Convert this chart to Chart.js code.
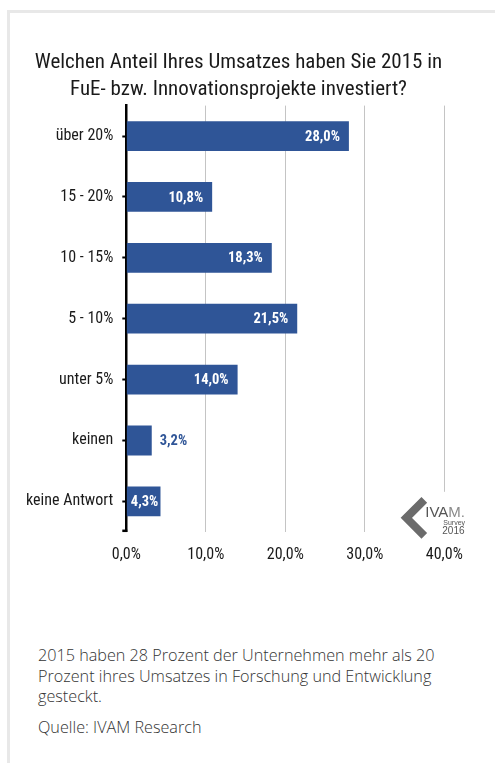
<!DOCTYPE html>
<html lang="de">
<head>
    <meta charset="UTF-8">
    <title>IVAM Survey 2016</title>
    <style>
        body {
            margin: 0;
            background: #fff;
            font-family: "Roboto Condensed", sans-serif;
        }
        .card {
            position: absolute;
            left: 7px;
            top: 10px;
            right: 0;
            bottom: 0;
            border-top: 3px solid #e8e8e8;
            border-left: 3px solid #e8e8e8;
        }
        .chart-box {
            position: absolute;
            left: 10px;
            top: 13px;
            width: 457px;
            height: 560px;
        }
        .caption {
            position: absolute;
            left: 38px;
            top: 645px;
            font-family: "Open Sans", sans-serif;
            font-size: 16.2px;
            font-weight: 300;
            line-height: 20.5px;
            color: #333;
            white-space: nowrap;
        }
        .caption p {
            margin: 0 0 10px 0;
        }
    </style>
    <script src="https://cdn.jsdelivr.net/npm/chart.js"></script>
</head>
<body>
    <div class="card"></div>
    <div class="chart-box">
        <canvas id="umsatzChart"></canvas>
    </div>
    <div class="caption">
        <p>2015 haben 28 Prozent der Unternehmen mehr als 20<br>Prozent ihres Umsatzes in Forschung und Entwicklung<br>gesteckt.</p>
        <p>Quelle: IVAM Research</p>
    </div>

    <script>
        // Daten aus der Grafik
        const categories = ['über 20%', '15 - 20%', '10 - 15%', '5 - 10%', 'unter 5%', 'keinen', 'keine Antwort'];
        const shares = [28.0, 10.8, 18.3, 21.5, 14.0, 3.2, 4.3];
        const xTicks = [0, 10, 20, 30, 40];
        const titleLines = ['Welchen Anteil Ihres Umsatzes haben Sie 2015 in', 'FuE- bzw. Innovationsprojekte investiert?'];

        const barColor = '#2f5597';
        const condensed = '"Roboto Condensed", "DejaVu Sans Condensed", sans-serif';

        const fmt = v => v.toFixed(1).replace('.', ',') + '%';

        // Werte an die Balken schreiben (innen weiss, ausserhalb blau)
        const valueLabels = {
            id: 'valueLabels',
            afterDatasetsDraw(chart) {
                const ctx = chart.ctx;
                const meta = chart.getDatasetMeta(0);
                ctx.save();
                ctx.font = 'bold 14.5px ' + condensed;
                ctx.textBaseline = 'middle';
                meta.data.forEach((bar, i) => {
                    const txt = fmt(shares[i]);
                    const w = ctx.measureText(txt).width;
                    const len = bar.x - bar.base;
                    if (len > w + 6) {
                        ctx.fillStyle = '#fff';
                        ctx.textAlign = 'right';
                        ctx.fillText(txt, Math.max(bar.x - 9, bar.base + 4 + w), bar.y + 1);
                    } else {
                        ctx.fillStyle = barColor;
                        ctx.textAlign = 'left';
                        ctx.fillText(txt, bar.x + 8, bar.y + 1);
                    }
                });
                ctx.restore();
            }
        };

        // kleiner Haken am Achsenende + IVAM Logo
        const extras = {
            id: 'extras',
            afterDraw(chart) {
                const ctx = chart.ctx;
                const a = chart.chartArea;
                ctx.save();
                ctx.strokeStyle = '#000';
                ctx.lineWidth = 2.5;
                ctx.beginPath();
                ctx.moveTo(a.left - 4, a.bottom - 1);
                ctx.lineTo(a.left + 1, a.bottom - 1);
                ctx.stroke();

                // Logo unten rechts
                const lx = a.right - 38, ly = a.bottom - 14;
                ctx.fillStyle = '#fff';
                ctx.fillRect(a.right - 6, a.bottom - 40, 12, 42);
                ctx.strokeStyle = '#6b6b6b';
                ctx.lineWidth = 8;
                ctx.lineJoin = 'miter';
                ctx.beginPath();
                ctx.moveTo(lx + 18, ly - 18);
                ctx.lineTo(lx, ly);
                ctx.lineTo(lx + 18, ly + 18);
                ctx.stroke();
                ctx.textBaseline = 'alphabetic';
                ctx.textAlign = 'left';
                ctx.font = '15px "Liberation Sans", Arial, sans-serif';
                ctx.fillStyle = '#555';
                ctx.fillText('IVA', lx + 19, ly - 1);
                const wIva = ctx.measureText('IVA').width;
                ctx.fillStyle = '#8a8a8a';
                ctx.fillText('M.', lx + 19 + wIva, ly - 1);
                ctx.fillStyle = '#555';
                ctx.font = '7px "Liberation Sans", Arial, sans-serif';
                ctx.fillText('Survey', lx + 37, ly + 7);
                ctx.font = '10px "Liberation Sans", Arial, sans-serif';
                ctx.fillText('2016', lx + 36, ly + 16);
                ctx.restore();
            }
        };

        const ctx = document.getElementById('umsatzChart').getContext('2d');
        const umsatzChart = new Chart(ctx, {
            type: 'bar',
            data: {
                labels: categories,
                datasets: [{
                    data: shares,
                    backgroundColor: barColor,
                    borderWidth: 0,
                    categoryPercentage: 1,
                    barPercentage: 0.49
                }]
            },
            options: {
                indexAxis: 'y',
                responsive: true,
                maintainAspectRatio: false,
                animation: false,
                layout: { padding: 0 },
                plugins: {
                    legend: { display: false },
                    tooltip: { enabled: false },
                    title: {
                        display: true,
                        text: titleLines,
                        color: '#1a1a1a',
                        font: { family: condensed, size: 21, weight: 'normal', lineHeight: 26.6 / 21 },
                        padding: { top: 36.4, bottom: 3 }
                    }
                },
                scales: {
                    x: {
                        min: 0,
                        max: 40,
                        afterBuildTicks(scale) {
                            scale.ticks = xTicks.map(v => ({ value: v }));
                        },
                        afterFit(scale) {
                            scale.height = 41.2;
                            scale.paddingLeft = 0;
                            scale.paddingRight = 22.7;
                        },
                        border: { display: false },
                        grid: { color: '#c4c4c4', lineWidth: 1, drawTicks: false },
                        ticks: {
                            padding: 14,
                            color: '#1a1a1a',
                            font: { family: condensed, size: 16 },
                            callback: v => fmt(v)
                        }
                    },
                    y: {
                        afterFit(scale) {
                            scale.width = 116.3;
                            scale.paddingTop = 0;
                            scale.paddingBottom = 0;
                        },
                        border: { display: true, color: '#000', width: 2.5 },
                        grid: {
                            offset: false,
                            drawOnChartArea: false,
                            drawTicks: true,
                            tickLength: 4,
                            tickWidth: 2,
                            tickColor: '#000'
                        },
                        ticks: {
                            padding: 9,
                            color: '#1a1a1a',
                            font: { family: condensed, size: 16 }
                        }
                    }
                }
            },
            plugins: [valueLabels, extras]
        });
    </script>
</body>
</html>
